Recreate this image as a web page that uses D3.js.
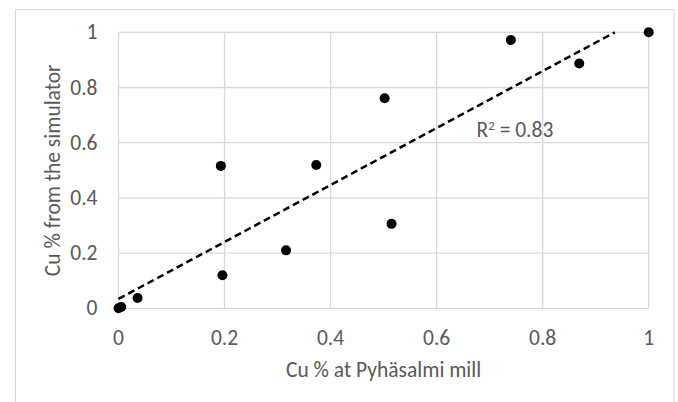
<!DOCTYPE html>
<html>
<head>
<meta charset="utf-8">
<script src="https://cdn.jsdelivr.net/npm/d3@7"></script>
<style>
  html, body { margin: 0; padding: 0; background: #fff; }
  svg { display: block; }
  text { font-family: Carlito, Calibri, Lato, "Liberation Sans", sans-serif; fill: #595959; }
</style>
</head>
<body>
<svg id="chart" width="678" height="402"></svg>
<script>
// ---- data ----
const millCu = [0, 0.005, 0.036, 0.193, 0.196, 0.316, 0.373, 0.502, 0.515, 0.740, 0.869, 1.0];
const simCu  = [0, 0.005, 0.037, 0.516, 0.120, 0.210, 0.519, 0.761, 0.306, 0.972, 0.887, 1.0];
const tickValues = [0, 0.2, 0.4, 0.6, 0.8, 1];
const tickLabels = ["0", "0.2", "0.4", "0.6", "0.8", "1"];
const trendIntercept = [0.034];
const trendSlope = [1.032];
const rSquaredLabel = ["R", "2", " = 0.83"];
const xTitle = "Cu % at Pyhäsalmi mill";
const yTitle = "Cu % from the simulator";

// ---- layout ----
const svg = d3.select("#chart");
const x = d3.scaleLinear().domain([0, 1]).range([118.5, 648.7]);
const y = d3.scaleLinear().domain([0, 1]).range([308.3, 32.3]);
const grid = "#d9d9d9";
const fs = 21.5;

// outer chart border
svg.append("rect")
  .attr("x", 15.5).attr("y", 9.5).attr("width", 658.5).attr("height", 400)
  .attr("fill", "#fff").attr("stroke", grid).attr("stroke-width", 1);

// gridlines
const g = svg.append("g");
g.selectAll("line.h").data(tickValues).enter().append("line")
  .attr("x1", x(0)).attr("x2", x(1))
  .attr("y1", d => y(d)).attr("y2", d => y(d))
  .attr("stroke", grid).attr("stroke-width", 1.3);
g.selectAll("line.v").data(tickValues).enter().append("line")
  .attr("y1", y(0)).attr("y2", y(1))
  .attr("x1", d => x(d)).attr("x2", d => x(d))
  .attr("stroke", grid).attr("stroke-width", 1.3);

// tick labels
svg.selectAll("text.yt").data(tickValues).enter().append("text")
  .attr("x", 97.5).attr("y", d => y(d))
  .attr("text-anchor", "end").attr("dominant-baseline", "central")
  .style("font-size", fs + "px")
  .text((d, i) => tickLabels[i]);
svg.selectAll("text.xt").data(tickValues).enter().append("text")
  .attr("x", d => x(d)).attr("y", 338)
  .attr("text-anchor", "middle").attr("dominant-baseline", "central")
  .style("font-size", fs + "px")
  .text((d, i) => tickLabels[i]);

// axis titles
svg.append("text")
  .attr("x", (x(0) + x(1)) / 2).attr("y", 370)
  .attr("text-anchor", "middle").attr("dominant-baseline", "central")
  .style("font-size", fs + "px")
  .text(xTitle);
svg.append("text")
  .attr("transform", `translate(53,${(y(0) + y(1)) / 2}) rotate(-90)`)
  .attr("text-anchor", "middle").attr("dominant-baseline", "central")
  .style("font-size", fs + "px")
  .text(yTitle);

// trendline (clipped to plot area)
const xEnd = Math.min(1, (1 - trendIntercept[0]) / trendSlope[0]);
const trendPts = [0, xEnd].map(v => [v, trendIntercept[0] + trendSlope[0] * v]);
svg.append("path")
  .attr("d", d3.line().x(d => x(d[0])).y(d => y(d[1]))(trendPts))
  .attr("fill", "none").attr("stroke", "#000")
  .attr("stroke-width", 2.5).attr("stroke-dasharray", "7,4");

// points
svg.selectAll("circle.pt").data(millCu).enter().append("circle")
  .attr("cx", d => x(d)).attr("cy", (d, i) => y(simCu[i]))
  .attr("r", 5).attr("fill", "#000");

// R² label
const rt = svg.append("text")
  .attr("x", 476.5).attr("y", 137)
  .style("font-size", fs + "px");
rt.append("tspan").text(rSquaredLabel[0]);
rt.append("tspan").attr("dy", -7).style("font-size", "13px").text(rSquaredLabel[1]);
rt.append("tspan").attr("dy", 7).text(rSquaredLabel[2]);
</script>
</body>
</html>
